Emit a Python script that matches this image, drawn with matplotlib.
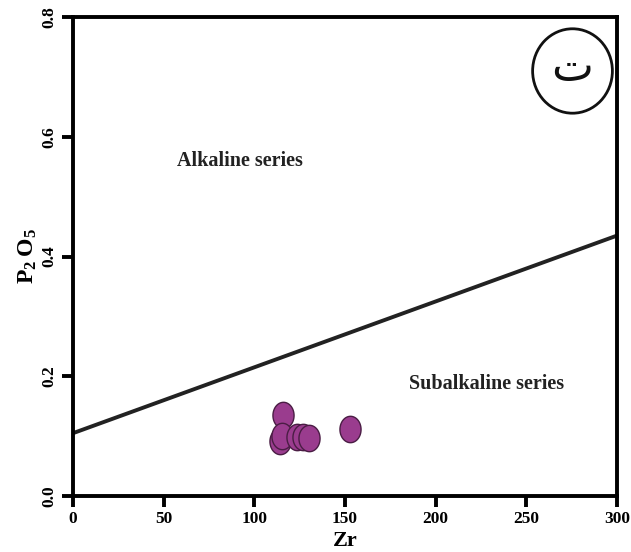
import matplotlib
matplotlib.use('Agg')
import matplotlib.pyplot as plt
import numpy as np
from matplotlib.path import Path
from matplotlib.patches import Ellipse

# sample points
zr = [116.0, 114.4, 115.5, 123.8, 127.0, 130.4, 152.5]
p2o5 = [0.135, 0.092, 0.100, 0.098, 0.098, 0.097, 0.112]

# dividing line between alkaline and subalkaline
line_zr = [0, 300]
line_p2o5 = [0.105, 0.435]

xticks = [0, 50, 100, 150, 200, 250, 300]
yticks = [0.0, 0.2, 0.4, 0.6, 0.8]

plt.rcParams['font.family'] = ['Liberation Serif', 'DejaVu Serif']
plt.rcParams['font.weight'] = 'bold'
plt.rcParams['mathtext.fontset'] = 'custom'
plt.rcParams['mathtext.rm'] = 'Liberation Serif'
plt.rcParams['mathtext.bf'] = 'Liberation Serif:bold'

fig = plt.figure(figsize=(6.31, 5.52), dpi=100)
ax = fig.add_axes([0.1157, 0.1014, 0.862, 0.8676])

ax.plot(line_zr, line_p2o5, color='#222222', linewidth=2.8, zorder=2)

# tall ellipse marker
t = np.linspace(0, 2 * np.pi, 60)
ell = Path(np.column_stack([0.4 * np.cos(t), 0.5 * np.sin(t)]), closed=True)
ax.plot(zr, p2o5, linestyle='none', marker=ell, markersize=19,
        markerfacecolor='#9a3c8e', markeredgecolor='#4a1d44', markeredgewidth=1.0, zorder=3)

ax.text(92, 0.56, 'Alkaline series', ha='center', va='center', fontsize=14.5, fontweight='bold', color='#222222')
ax.text(228, 0.187, 'Subalkaline series', ha='center', va='center', fontsize=14.5, fontweight='bold', color='#222222')

circ = Ellipse((275.5, 0.71), 44, 0.141, transform=ax.transData, fill=False,
               edgecolor='#111111', linewidth=2, zorder=4)
ax.add_patch(circ)
ax.text(275.5, 0.715, 'ت', ha='center', va='center', fontsize=32,
        family=['DejaVu Serif', 'DejaVu Sans'], fontweight='normal', color='#111111')

ax.set_xlim(0, 300)
ax.set_ylim(0, 0.8)
ax.set_xticks(xticks)
ax.set_yticks(yticks)
ax.set_xticklabels([str(v) for v in xticks], fontsize=12.5, fontweight='bold')
ax.set_yticklabels(['%.1f' % v for v in yticks], fontsize=12.5, fontweight='bold', rotation=90, va='center')

for s in ax.spines.values():
    s.set_linewidth(2.8)
ax.tick_params(direction='out', length=8, width=2.8, pad=3)

ax.text(0.5, -0.072, 'Zr', transform=ax.transAxes, ha='center', va='top',
        fontsize=16, fontweight='bold')
ax.set_ylabel(r'$\mathbf{P_2\,O_5}$', fontsize=17, labelpad=2)

fig.savefig('out.png', dpi=100)
